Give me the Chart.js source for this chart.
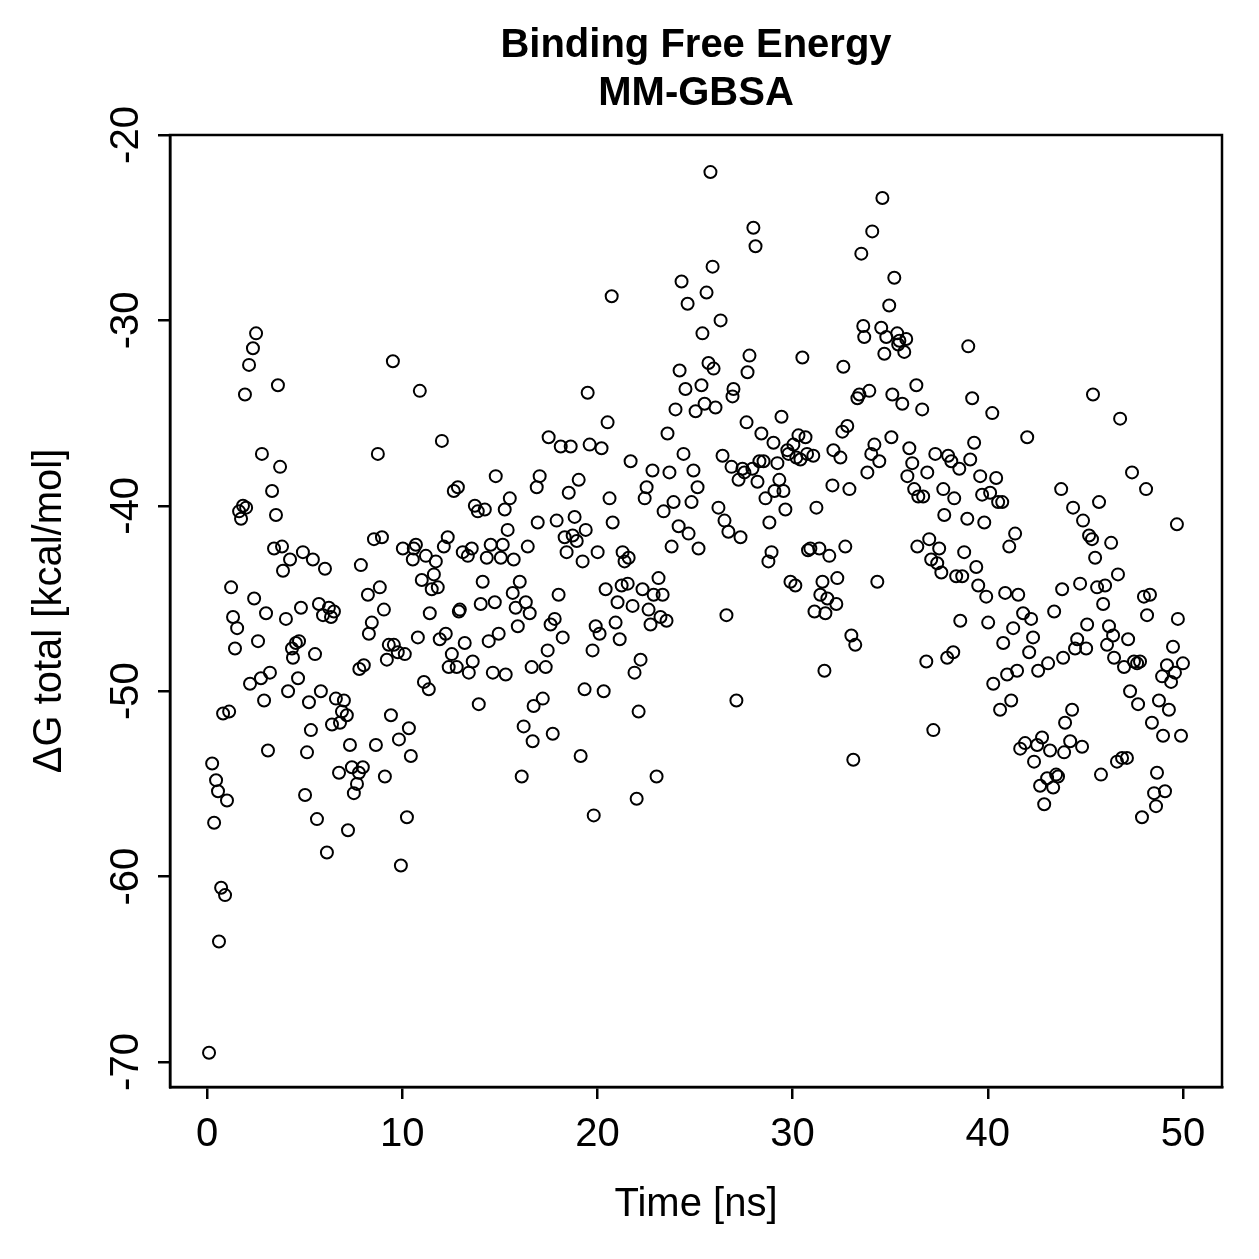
<!DOCTYPE html>
<html>
<head>
<meta charset="utf-8">
<title>Binding Free Energy - MM-GBSA</title>
<script src="https://cdn.jsdelivr.net/npm/chart.js@4.4.0/dist/chart.umd.min.js"></script>
<style>
  html, body { margin: 0; padding: 0; background: #fff; }
  canvas { display: block; }
</style>
</head>
<body>
<canvas id="chart" width="1259" height="1259"></canvas>
<script>
// time [ns] of each frame
const time = [
  0.10, 0.26, 0.36, 0.46, 0.56, 0.61, 0.72, 0.82, 0.92, 1.02,
  1.13, 1.23, 1.33, 1.43, 1.54, 1.64, 1.74, 1.84, 1.94, 2.00,
  2.15, 2.20, 2.35, 2.41, 2.51, 2.61, 2.76, 2.81, 2.92, 3.02,
  3.12, 3.22, 3.33, 3.43, 3.53, 3.63, 3.74, 3.84, 3.89, 4.04,
  4.15, 4.25, 4.35, 4.40, 4.55, 4.66, 4.71, 4.81, 4.91, 5.02,
  5.12, 5.22, 5.32, 5.42, 5.53, 5.63, 5.73, 5.83, 5.94, 6.04,
  6.14, 6.24, 6.35, 6.40, 6.50, 6.60, 6.76, 6.81, 6.91, 7.01,
  7.16, 7.22, 7.32, 7.42, 7.52, 7.68, 7.78, 7.80, 7.88, 7.98,
  8.03,
  8.24, 8.29, 8.44, 8.55, 8.65, 8.75, 8.85, 8.96, 9.06, 9.11,
  9.21, 9.31, 9.42, 9.52, 9.57, 9.77, 9.83, 9.93, 10.03, 10.13,
  10.24, 10.34, 10.44, 10.54, 10.59, 10.70, 10.80, 10.90, 11.00, 11.11,
  11.21, 11.36, 11.41, 11.51, 11.62, 11.72, 11.82, 11.92, 12.03, 12.13,
  12.23, 12.33, 12.38, 12.54, 12.64, 12.79, 12.85, 12.90, 12.95, 13.10,
  13.20, 13.36, 13.41, 13.56, 13.61, 13.72, 13.87, 13.92, 14.02, 14.12,
  14.23, 14.33, 14.43, 14.53, 14.64, 14.74, 14.79, 14.94, 15.05, 15.15,
  15.25, 15.30, 15.40, 15.51, 15.66, 15.71, 15.81, 15.92, 16.02, 16.12,
  16.22, 16.33, 16.43, 16.53, 16.63, 16.68, 16.73, 16.89, 16.94, 17.04,
  17.20, 17.35, 17.45, 17.50, 17.60, 17.71, 17.81, 17.91, 18.01, 18.12,
  18.22, 18.32, 18.42, 18.53, 18.63, 18.73, 18.83, 18.94, 19.04, 19.14,
  19.24, 19.34, 19.40, 19.50, 19.60, 19.75, 19.81, 19.91, 20.01, 20.11,
  20.21, 20.32, 20.42, 20.52, 20.62, 20.73, 20.78, 20.93, 21.03, 21.14,
  21.24, 21.29, 21.39, 21.55, 21.60, 21.70, 21.80, 21.90, 22.01, 22.11,
  22.21, 22.31, 22.42, 22.52, 22.62, 22.72, 22.82, 22.88, 23.03, 23.13,
  23.23, 23.34, 23.39, 23.54, 23.59, 23.69, 23.80, 23.90, 24.00, 24.16,
  24.21, 24.31, 24.41, 24.51, 24.62, 24.67, 24.82, 24.92, 25.03, 25.13,
  25.18, 25.33, 25.38, 25.49, 25.59, 25.69, 25.79, 25.90, 25.95, 26.05,
  26.20, 26.31, 26.41, 26.51, 26.61, 26.71, 26.87, 26.92, 26.97, 27.12,
  27.23, 27.33, 27.43, 27.53, 27.64, 27.69, 27.79, 27.94, 27.99, 28.10,
  28.20, 28.30, 28.40, 28.51, 28.61, 28.76, 28.81, 28.92, 29.02, 29.07,
  29.22, 29.32, 29.43, 29.53, 29.63, 29.73, 29.79, 29.89, 30.04, 30.14,
  30.19, 30.30, 30.40, 30.50, 30.66, 30.74, 30.79, 30.91, 31.06, 31.12,
  31.22, 31.37, 31.42, 31.53, 31.63, 31.68, 31.78, 31.88, 32.04, 32.09,
  32.24, 32.29, 32.45, 32.55, 32.60, 32.70, 32.80, 32.91, 33.01, 33.11,
  33.21, 33.32, 33.42, 33.52, 33.62, 33.67, 33.83, 33.93, 34.03, 34.08,
  34.19, 34.34, 34.44, 34.54, 34.60, 34.70, 34.80,
  34.95, 35.06, 35.11, 35.21, 35.36, 35.41, 35.47, 35.62, 35.72, 35.82,
  35.88, 35.98, 36.13, 36.23, 36.34, 36.39, 36.44, 36.64, 36.69, 36.85,
  36.90, 37.00, 37.10, 37.21, 37.31, 37.41, 37.51, 37.62, 37.72, 37.77,
  37.92, 37.97, 38.13, 38.23, 38.28, 38.38, 38.54, 38.59, 38.69, 38.79,
  38.95, 39.00, 39.10, 39.20, 39.30, 39.41, 39.51, 39.61, 39.71, 39.82,
  39.92, 40.02, 40.12, 40.23, 40.28, 40.43, 40.53, 40.63, 40.74, 40.79,
  40.89, 40.99, 41.10, 41.20, 41.30, 41.40, 41.50, 41.56, 41.66, 41.81,
  41.91, 42.02, 42.12, 42.22, 42.32, 42.37, 42.53, 42.58, 42.68, 42.78,
  42.89, 43.04, 43.09, 43.19, 43.35, 43.40, 43.50, 43.60, 43.76, 43.81,
  43.86, 43.91, 43.96, 44.22, 44.32, 44.37, 44.47, 44.58, 44.73, 44.83,
  44.88, 45.04, 45.09, 45.19, 45.34, 45.39, 45.50, 45.60, 45.70, 45.80,
  45.91, 46.01, 46.11, 46.21, 46.32, 46.42, 46.47, 46.62, 46.67, 46.78,
  46.88, 46.98, 47.13, 47.19, 47.29, 47.39, 47.49, 47.65, 47.70, 47.80,
  47.90, 48.00, 48.11, 48.16, 48.31, 48.41, 48.52, 48.62, 48.67, 48.77,
  48.93, 48.98, 49.08, 49.18, 49.28, 49.39, 49.49, 49.59, 49.69, 49.74,
  49.90, 50.00
];

// Delta G total [kcal/mol] for each frame
const dG = [
  -69.5, -53.9, -57.1, -54.8, -55.4, -63.5, -60.6, -51.2, -61.0, -55.9,
  -51.1, -44.4, -46.0, -47.7, -46.6, -40.3, -40.7, -40.0, -34.0, -40.1,
  -32.4, -49.6, -31.5, -45.0, -30.7, -47.3, -49.3, -37.2, -50.5, -45.8,
  -53.2, -49.0, -39.2, -42.3, -40.5, -33.5, -37.9, -42.2, -43.5, -46.1,
  -50.0, -42.9, -47.7, -48.2, -47.4, -49.3, -47.3, -45.5, -42.5, -55.6,
  -53.3, -50.6, -52.1, -42.9, -48.0, -56.9, -45.3, -50.0, -45.9, -43.4,
  -58.7, -45.5, -46.0, -51.8, -45.7, -50.4, -54.4, -51.7, -51.1, -50.5,
  -51.3, -57.5, -52.9, -54.1, -55.5, -55.0, -54.4, -48.8, -43.2, -54.1,
  -48.6,
  -44.8, -46.9, -46.3, -41.8, -52.9, -37.2, -44.4, -41.7, -45.6, -54.6,
  -48.3, -47.5, -51.3, -32.2, -47.5, -47.9, -52.6, -59.4, -42.3, -48.0,
  -56.8, -52.0, -53.5, -42.9, -42.3, -42.1, -47.1, -33.8, -44.0, -49.5,
  -42.7, -49.9, -45.8, -44.5, -43.7, -43.0, -44.4, -47.2, -36.5, -42.2,
  -46.9, -41.7, -48.7, -48.0, -39.2, -48.7, -39.0, -45.7, -45.6, -42.5,
  -47.4, -42.7, -49.0, -42.3, -48.4, -40.0, -40.3, -50.7, -45.3, -44.1,
  -40.2, -42.8, -47.3, -42.1, -49.0, -45.2, -38.4, -46.9, -42.8, -42.1,
  -40.2, -49.1, -41.3, -39.6, -44.7, -42.9, -45.5, -46.5, -44.1, -54.6,
  -51.9, -45.2, -42.2, -45.8, -48.7, -52.7, -50.8, -39.0, -40.9, -38.4,
  -50.4, -48.7, -47.8, -36.3, -46.4, -52.3, -46.1, -40.8, -44.8, -36.8,
  -47.1, -41.7, -42.5, -39.3, -36.8, -41.6, -40.6, -41.9, -38.6, -53.5,
  -43.0, -49.9, -41.3, -33.9, -36.7, -47.8, -56.7, -46.5, -42.5, -46.9,
  -36.9, -50.0, -44.5, -35.5, -39.6, -28.7, -40.9, -46.3, -45.2, -47.2,
  -44.3, -42.5, -43.0, -44.2, -42.8, -37.6, -45.4, -49.0, -55.8, -51.1,
  -48.3, -44.5, -39.6, -39.0, -45.6, -46.4, -38.1, -44.8, -54.6, -43.9,
  -46.0, -44.8, -40.3, -46.2, -36.1, -38.2, -42.2, -39.8, -34.8, -41.1,
  -32.7, -27.9, -37.2, -33.7, -29.1, -41.5, -39.8, -38.1, -34.9, -39.0,
  -42.3, -33.5, -30.7, -34.5, -28.5, -32.3, -22.0, -27.1, -32.6, -34.7,
  -40.1, -30.0, -37.3, -40.8, -45.9, -41.4, -37.9, -34.1, -33.7, -50.5,
  -38.6, -41.7, -38.0, -38.2, -35.5, -32.8, -31.9, -38.0, -25.0, -26.0,
  -38.7, -37.6, -36.1, -37.6, -39.6, -43.0, -40.9, -42.5, -36.6, -39.2,
  -37.7, -38.6, -35.2, -39.2, -40.2, -37.0, -37.2, -44.1, -36.7, -44.3,
  -37.4, -36.2, -37.5, -32.0, -36.3, -37.2, -42.4, -42.3, -37.3, -45.7,
  -40.1, -42.3, -44.8, -44.1, -48.9, -45.8, -45.0, -42.7, -38.9, -37.0,
  -45.3, -43.9, -37.4, -36.0, -32.5, -42.2, -35.7, -39.1, -47.0, -53.7,
  -47.5, -34.2, -34.0, -26.4, -30.3, -30.9, -38.2, -33.8, -37.2, -25.2,
  -36.7, -44.1, -37.6, -30.4, -23.4, -31.8, -30.9,
  -29.2, -36.3, -34.0, -27.7, -30.7, -31.3, -31.1, -34.5, -31.7, -31.0,
  -38.4, -36.9, -37.7, -39.1, -33.5, -42.2, -39.5, -34.8, -39.5, -48.4,
  -38.2, -41.8, -42.9, -52.1, -37.2, -43.1, -42.3, -43.6, -39.1, -40.5,
  -48.2, -37.3, -37.6, -47.9, -39.6, -43.8, -38.0, -46.2, -43.8, -42.5,
  -40.7, -31.4, -37.5, -34.2, -36.6, -43.3, -44.3, -38.4, -39.4, -40.9,
  -44.9, -46.3, -39.3, -35.0, -49.6, -38.5, -39.8, -51.0, -39.8, -47.4,
  -44.7, -49.1, -42.2, -50.5, -46.6, -41.5, -48.9, -44.8, -53.1, -45.8,
  -52.8, -36.3, -47.9, -46.1, -47.1, -53.8, -52.9, -48.9, -55.1, -52.5,
  -56.1, -54.7, -48.5, -53.2, -55.2, -45.7, -54.5, -54.6, -39.1, -44.5,
  -48.2, -53.3, -51.7, -52.7, -51.0, -40.1, -47.7, -47.2, -44.2, -53.0,
  -40.8, -47.7, -46.4, -41.6, -41.8, -34.0, -42.8, -44.4, -39.8, -54.5,
  -45.3, -44.3, -47.5, -46.5, -42.0, -47.0, -48.2, -53.8, -43.7, -35.3,
  -53.6, -48.7, -53.6, -47.2, -50.0, -38.2, -48.4, -48.5, -50.7, -48.4,
  -56.8, -44.9, -39.1, -45.9, -44.8, -51.7, -55.5, -56.2, -54.4, -50.5,
  -49.2, -52.4, -55.4, -48.6, -51.0, -49.5, -47.6, -49.0, -41.0, -46.1,
  -52.4, -48.5
];

const xTicks = [0, 10, 20, 30, 40, 50];
const yTicks = [-70, -60, -50, -40, -30, -20];

const FONT = 'Liberation Sans, Arial, Helvetica, sans-serif';

// frame around the plotting region, like R's box()
const plotBox = {
  id: 'plotBox',
  afterDraw(chart) {
    const { ctx, chartArea } = chart;
    ctx.save();
    ctx.strokeStyle = '#000';
    ctx.lineWidth = 2.5;
    ctx.strokeRect(chartArea.left, chartArea.top,
      chartArea.right - chartArea.left, chartArea.bottom - chartArea.top);
    ctx.restore();
  }
};

const points = time.map((t, i) => ({ x: t, y: dG[i] }));

new Chart(document.getElementById('chart'), {
  type: 'scatter',
  data: {
    datasets: [{
      label: 'ΔG total',
      data: points,
      pointStyle: 'circle',
      pointRadius: 6,
      pointBorderWidth: 2,
      pointBackgroundColor: 'rgba(0,0,0,0)',
      pointBorderColor: '#000'
    }]
  },
  plugins: [plotBox],
  options: {
    responsive: false,
    animation: false,
    layout: { padding: { left: 0, right: 37, top: 0, bottom: 0 } },
    plugins: {
      legend: { display: false },
      tooltip: { enabled: false },
      title: {
        display: true,
        fullSize: false,
        text: ['Binding Free Energy', 'MM-GBSA'],
        color: '#000',
        font: { family: FONT, size: 40, weight: 'bold', lineHeight: 1.2 },
        padding: { top: 22, bottom: 17 }
      }
    },
    scales: {
      x: {
        type: 'linear',
        min: -1.9,
        max: 52.0,
        afterBuildTicks: s => { s.ticks = xTicks.map(v => ({ value: v })); },
        afterFit: s => { s.height = 172; },
        grid: { drawOnChartArea: false, drawTicks: true, tickLength: 12, color: '#000', lineWidth: 2.5 },
        border: { display: true, color: '#000', width: 2.5 },
        ticks: {
          color: '#000',
          font: { family: FONT, size: 40 },
          padding: 12,
          maxRotation: 0,
          callback: v => String(v)
        },
        title: {
          display: true,
          text: 'Time [ns]',
          color: '#000',
          font: { family: FONT, size: 40 },
          padding: { top: 0, bottom: 30 }
        }
      },
      y: {
        type: 'linear',
        min: -71.35,
        max: -20,
        afterBuildTicks: s => { s.ticks = yTicks.map(v => ({ value: v })); },
        afterFit: s => { s.width = 170; },
        grid: { drawOnChartArea: false, drawTicks: true, tickLength: 12, color: '#000', lineWidth: 2.5 },
        border: { display: true, color: '#000', width: 2.5 },
        ticks: {
          color: '#000',
          font: { family: FONT, size: 40 },
          padding: 2,
          minRotation: 90,
          maxRotation: 90,
          crossAlign: 'center',
          callback: v => String(v)
        },
        title: {
          display: true,
          text: 'ΔG total [kcal/mol]',
          color: '#000',
          font: { family: FONT, size: 40 },
          padding: { top: 26, bottom: 0 }
        }
      }
    }
  }
});
</script>
</body>
</html>
